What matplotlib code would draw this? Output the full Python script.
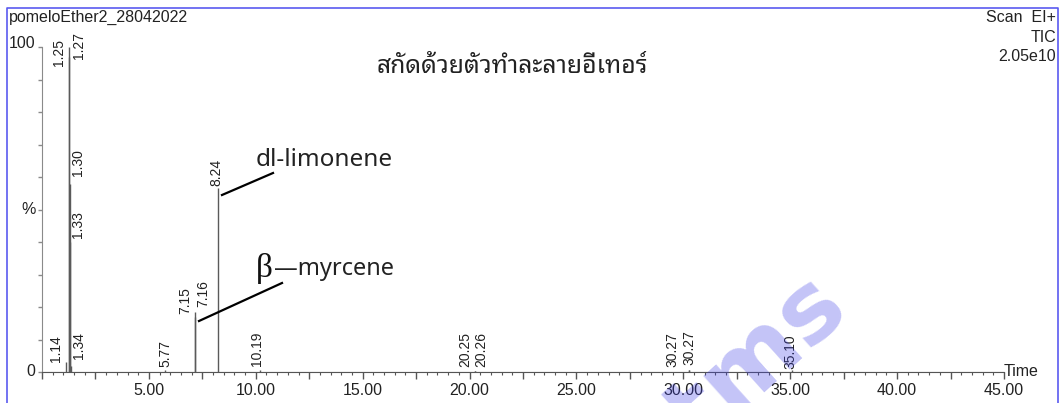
import matplotlib
matplotlib.use("Agg")
import matplotlib.pyplot as plt
from matplotlib.lines import Line2D
from matplotlib.ticker import MultipleLocator, FuncFormatter

# ---------------------------------------------------------------
# TIC chromatogram - pomelo peel, ether extract
# ---------------------------------------------------------------
run_name = "pomeloEther2_28042022"
scan_info = ["Scan  EI+", "TIC", "2.05e10"]
title_th = "สกัดด้วยตัวทำละลายอีเทอร์"

# retention time (min) and relative abundance (%)
peak_rt = [1.14, 1.25, 1.27, 1.30, 1.33, 1.34, 5.77, 7.15, 7.16, 8.24,
           10.19, 20.25, 20.26, 30.27, 30.27, 35.10]
peak_height = [3, 100, 97, 58, 40, 2, 0.6, 18.5, 17, 56.5,
               0.5, 0.4, 0.4, 0.5, 0.5, 0.6]
peak_label = ["1.14", "1.25", "1.27", "1.30", "1.33", "1.34", "5.77", "7.15",
              "7.16", "8.24", "10.19", "20.25", "20.26", "30.27", "30.27", "35.10"]

# where each rt label sits (min, %), staggered like the instrument software
label_x = [0.66, 0.80, 1.73, 1.69, 1.69, 1.73, 5.76, 6.70, 7.55, 8.15,
           10.07, 19.8, 20.55, 29.5, 30.3, 35.0]
label_y = [2.2, 93.5, 95.5, 59.5, 40.5, 3.2, 0.6, 17.0, 19.2, 56.5,
           1.0, 0.6, 0.6, 0.6, 1.4, 0.0]

W, H = 1062, 403
fig = plt.figure(figsize=(W / 100, H / 100), dpi=100)


def px(x, y):
    # pixel position -> figure fraction
    return x / W, 1 - y / H


ax = fig.add_axes([42 / W, 31 / H, 962 / W, 325 / H])
ax.set_xlim(0, 45)
ax.set_ylim(0, 100)

ax.vlines(peak_rt, 0, peak_height, color="#5a5a5a", lw=1.0)
ax.plot([0, 45], [0, 0], color="#777777", lw=0.8)

for txt, x, y in zip(peak_label, label_x, label_y):
    ax.text(x, y + 0.8, txt, rotation=90, ha="center", va="bottom",
            fontsize=10, family="Liberation Sans", color="#222222", clip_on=False)

for side in ["top", "right"]:
    ax.spines[side].set_visible(False)
ax.spines["left"].set_color("#8a8a8a")
ax.spines["bottom"].set_color("#555555")

ax.xaxis.set_major_locator(MultipleLocator(2.5))
ax.xaxis.set_minor_locator(MultipleLocator(0.5))
ax.xaxis.set_major_formatter(FuncFormatter(
    lambda v, p: f"{v:.2f}" if v > 0 and abs(v % 5) < 1e-6 else ""))
ax.tick_params(axis="x", which="major", length=5, width=1, color="#555555",
               labelsize=11.5, labelcolor="#222222", pad=3)
ax.tick_params(axis="x", which="minor", length=2.5, width=0.8, color="#555555")
for lab in ax.get_xticklabels():
    lab.set_family("Liberation Sans")

ax.yaxis.set_major_locator(MultipleLocator(10))
ax.yaxis.set_major_formatter(FuncFormatter(lambda v, p: ""))
ax.tick_params(axis="y", length=3, width=1, color="#8a8a8a")

lab_font = dict(family="Liberation Sans", fontsize=11.5, color="#222222")
fig.text(*px(35, 44), "100", ha="right", va="center", **lab_font)
fig.text(*px(36, 209), "%", ha="right", va="center", **lab_font)
fig.text(*px(35, 372), "0", ha="right", va="center", **lab_font)
fig.text(*px(1004, 372), "Time", ha="left", va="center", **lab_font)

fig.text(*px(9, 10), run_name, ha="left", va="top", **lab_font)
for i, s in enumerate(scan_info):
    fig.text(*px(1056, 10 + 19.5 * i), s, ha="right", va="top", **lab_font)

# Thai heading and compound names
th_font = ["Noto Sans Thai Looped", "Noto Sans", "DejaVu Sans"]
fig.text(*px(512, 73), title_th, ha="center", va="baseline",
         family=th_font, fontsize=17.8, color="#222222")
fig.text(*px(256, 166), "dl-limonene", ha="left", va="baseline",
         family=th_font, fontsize=17.5, color="#222222")
fig.text(*px(256, 277), "β", ha="left", va="baseline",
         family="Liberation Serif", fontsize=24, color="#111111")
fig.text(*px(274, 275), "—myrcene", ha="left", va="baseline",
         family=th_font, fontsize=17, color="#222222")

for (x0, y0), (x1, y1) in [((222, 195), (273, 173)), ((199, 321), (282, 283))]:
    fig.add_artist(Line2D([x0 / W, x1 / W], [1 - y0 / H, 1 - y1 / H],
                          color="black", lw=1.6))

# page frame
frame = "#5a5af0"
fig.add_artist(Line2D([7 / W, 7 / W, 1058 / W, 1058 / W],
                      [0, 1 - 8 / H, 1 - 8 / H, 0], color=frame, lw=1.2))

# watermark
fig.text(*px(758, 362), "tms", rotation=42, ha="center", va="center",
         fontsize=70, family="DejaVu Sans", fontweight="bold",
         color="#3c3ce6", alpha=0.3, zorder=10)

fig.savefig("out.png", dpi=100)
